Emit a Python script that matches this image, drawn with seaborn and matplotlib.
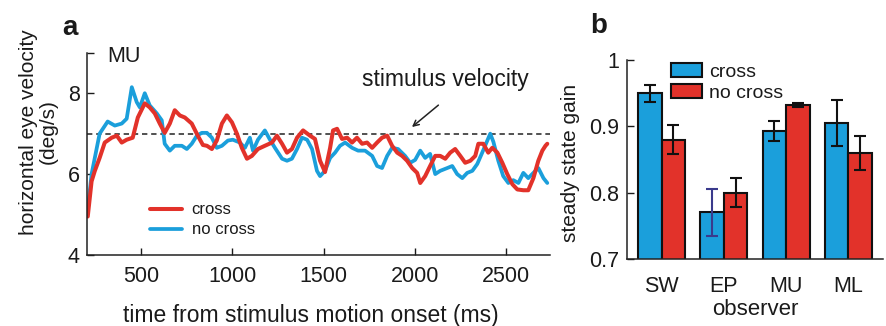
import matplotlib
matplotlib.use('Agg')
import matplotlib.pyplot as plt
import seaborn as sns
import pandas as pd

# Panel a: horizontal eye velocity traces (observer MU)
time_cross = [210, 231, 248, 275, 303, 341, 369, 396, 423, 456, 484, 522, 549, 577, 604,
              631, 659, 686, 714, 741, 779, 812, 840, 862, 889, 916, 944, 971, 999, 1026,
              1053, 1081, 1108, 1141, 1179, 1218, 1245, 1273, 1300, 1327, 1355, 1388, 1426,
              1453, 1481, 1508, 1536, 1552, 1574, 1601, 1629, 1656, 1683, 1711, 1738, 1766,
              1793, 1820, 1848, 1875, 1903, 1930, 1957, 1985, 2012, 2029, 2056, 2083, 2111,
              2138, 2166, 2193, 2220, 2248, 2275, 2303, 2330, 2347, 2374, 2401, 2423, 2451,
              2478, 2505, 2533, 2560, 2593, 2620, 2648, 2675, 2697, 2714, 2724]
vel_cross = [4.95, 5.82, 6.07, 6.4, 6.78, 6.9, 6.95, 6.78, 6.85, 6.9, 7.4, 7.75, 7.65, 7.5, 7.25,
             7.02, 7.25, 7.58, 7.45, 7.4, 7.25, 6.95, 6.72, 6.7, 6.62, 6.83, 7.25, 7.45, 7.28, 7.0,
             6.65, 6.38, 6.45, 6.62, 6.7, 6.78, 6.95, 6.75, 6.53, 6.62, 6.9, 7.08, 6.95,
             6.87, 6.33, 6.05, 6.65, 7.08, 7.12, 6.87, 6.9, 6.78, 6.9, 6.75, 6.78, 6.65,
             6.78, 6.9, 6.95, 6.7, 6.53, 6.45, 6.33, 6.15, 6.03, 5.78, 5.95, 6.2, 6.45,
             6.45, 6.38, 6.53, 6.62, 6.45, 6.28, 6.33, 6.45, 6.75, 6.75, 6.53, 6.65, 6.53,
             6.28, 6.0, 5.75, 5.62, 5.6, 5.6, 5.9, 6.33, 6.58, 6.7, 6.75]

time_nocross = [210, 231, 275, 319, 358, 396, 423, 451, 478, 495, 522, 549, 588, 615, 631,
                659, 686, 725, 752, 779, 807, 834, 862, 889, 916, 944, 977, 1004, 1042, 1070,
                1097, 1114, 1141, 1179, 1207, 1234, 1273, 1300, 1327, 1355, 1382, 1410, 1437,
                1464, 1481, 1508, 1536, 1563, 1590, 1618, 1656, 1689, 1727, 1766, 1793, 1820,
                1848, 1875, 1908, 1946, 1974, 2001, 2029, 2056, 2083, 2111, 2138, 2177, 2204,
                2231, 2259, 2286, 2314, 2341, 2368, 2396, 2412, 2429, 2456, 2483, 2511, 2538,
                2566, 2593, 2620, 2648, 2675, 2703, 2724]
vel_nocross = [5.1, 6.0, 7.0, 7.3, 7.2, 7.25, 7.37, 8.15, 7.78, 7.65, 8.0, 7.7, 7.5, 7.33, 6.75,
               6.58, 6.7, 6.7, 6.62, 6.75, 6.95, 7.02, 7.02, 6.9, 6.65, 6.7, 6.83, 6.85, 6.78, 6.65,
               6.9, 6.58, 6.85, 7.08, 6.85, 6.65, 6.38, 6.33, 6.38, 6.62, 6.9, 6.85, 6.62,
               6.08, 5.95, 6.08, 6.4, 6.53, 6.7, 6.78, 6.65, 6.58, 6.58, 6.45, 6.2, 6.15,
               6.45, 6.65, 6.62, 6.45, 6.28, 6.35, 6.58, 6.4, 6.5, 6.0, 6.08, 6.15, 6.2,
               6.0, 5.9, 6.03, 6.08, 6.25, 6.53, 6.83, 7.0, 6.8, 6.33, 5.95, 5.78, 5.85,
               5.78, 6.03, 5.9, 6.03, 6.15, 5.9, 5.78]

stimulus_velocity = 7
time_ticks = [500, 1000, 1500, 2000, 2500]
vel_ticks = [4, 6, 8, 9]
vel_ticklabels = ['4', '6', '8', '']

# Panel b: steady state gain per observer
observers = ['SW', 'EP', 'MU', 'ML']
gain_cross = [0.950, 0.770, 0.893, 0.905]
gain_nocross = [0.880, 0.800, 0.932, 0.860]
err_cross = [0.013, 0.036, 0.0145, 0.035]
err_nocross = [0.0225, 0.022, 0.003, 0.026]
gain_ticks = [0.7, 0.8, 0.9, 1.0]
gain_ticklabels = ['0.7', '0.8', '0.9', '1']

BLUE = '#1b9fdb'
RED = '#e2322a'
TXT = '#1a1a1a'

sns.set_style('ticks')
plt.rcParams['font.family'] = ['Liberation Sans', 'DejaVu Sans']
plt.rcParams['text.color'] = TXT
plt.rcParams['axes.labelcolor'] = TXT
plt.rcParams['xtick.color'] = TXT
plt.rcParams['ytick.color'] = TXT

fig = plt.figure(figsize=(8.86, 3.26), dpi=100)
ax_a = fig.add_axes([0.098, 0.218, 0.523, 0.620])
ax_b = fig.add_axes([0.708, 0.206, 0.289, 0.610])

# ---- panel a
ax_a.axhline(stimulus_velocity, color='#222222', lw=1.1, ls=(0, (3.5, 2.5)), zorder=1)
sns.lineplot(x=time_nocross, y=vel_nocross, ax=ax_a, color=BLUE, lw=2.7,
             label='no cross', estimator=None, sort=False)
sns.lineplot(x=time_cross, y=vel_cross, ax=ax_a, color=RED, lw=2.9,
             label='cross', estimator=None, sort=False)
for ln in ax_a.get_lines():
    ln.set_solid_joinstyle('round')
    ln.set_solid_capstyle('round')

ax_a.set_xlim(205, 2740)
ax_a.set_ylim(4, 9)
ax_a.set_xticks(time_ticks)
ax_a.set_yticks(vel_ticks)
ax_a.set_yticklabels(vel_ticklabels)
ax_a.tick_params(direction='in', length=5, width=1, labelsize=15.5)
ax_a.tick_params(axis='x', pad=8)
ax_a.tick_params(axis='y', pad=5)
sns.despine(ax=ax_a)
for s in ['left', 'bottom']:
    ax_a.spines[s].set_linewidth(1.1)
    ax_a.spines[s].set_color('#222222')

ax_a.set_xlabel('time from stimulus motion onset (ms)', fontsize=16.5)
ax_a.xaxis.set_label_coords(0.483, -0.245)
ax_a.set_ylabel('horizontal eye velocity\n(deg/s)', fontsize=15, linespacing=1.1)
ax_a.yaxis.set_label_coords(-0.062, 0.61)

ax_a.text(0.045, 0.98, 'MU', transform=ax_a.transAxes, fontsize=15.5, va='center', ha='left')
ax_a.annotate('stimulus velocity', xy=(1972, 7.12), xytext=(2166, 8.33),
              fontsize=16.5, ha='center', va='center')
ax_a.annotate('', xy=(1972, 7.12), xytext=(2140, 7.75),
              arrowprops=dict(arrowstyle='->', color='#222222', lw=1.1))

h, l = ax_a.get_legend_handles_labels()
ax_a.legend([h[1], h[0]], [l[1], l[0]], loc='upper left', bbox_to_anchor=(0.136, 0.26),
            frameon=False, fontsize=12, handlelength=1.9, handletextpad=0.6,
            labelspacing=0.3, borderpad=0, borderaxespad=0)

# ---- panel b
gain_df = pd.DataFrame({
    'observer': observers * 2,
    'condition': ['cross'] * len(observers) + ['no cross'] * len(observers),
    'gain': gain_cross + gain_nocross,
})
sns.barplot(data=gain_df, x='observer', y='gain', hue='condition', order=observers,
            hue_order=['cross', 'no cross'], palette={'cross': BLUE, 'no cross': RED},
            saturation=1, width=0.75, edgecolor='#111111', linewidth=1.5,
            errorbar=None, ax=ax_b)

bars = sorted(ax_b.patches, key=lambda p: p.get_x())
bars = [p for p in bars if p.get_height() > 0.5]
errs = []
err_colors = []
for i in range(len(observers)):
    errs += [err_cross[i], err_nocross[i]]
    err_colors += ['#3a3a8c' if observers[i] == 'EP' else '#111111', '#111111']
for p, e, c in zip(bars, errs, err_colors):
    ax_b.errorbar(p.get_x() + p.get_width() / 2, p.get_height(), yerr=e, color=c,
                  capsize=4.5, elinewidth=1.5, capthick=1.5, zorder=5)

ax_b.set_ylim(0.7, 1.0)
ax_b.set_xlim(-0.55, 3.56)
ax_b.set_yticks(gain_ticks)
ax_b.set_yticklabels(gain_ticklabels)
ax_b.tick_params(direction='in', length=5, width=1, labelsize=15.5)
ax_b.tick_params(axis='x', length=0, pad=12)
ax_b.tick_params(axis='y', pad=6)
sns.despine(ax=ax_b)
for s in ['left', 'bottom']:
    ax_b.spines[s].set_linewidth(1.1)
    ax_b.spines[s].set_color('#222222')
ax_b.set_xlabel('observer', fontsize=16, labelpad=2)
ax_b.set_ylabel('steady state gain', fontsize=15)
ax_b.yaxis.set_label_coords(-0.184, 0.48)

sns.move_legend(ax_b, 'upper left', bbox_to_anchor=(0.169, 0.985), frameon=False, title=None,
                fontsize=14, handlelength=1.6, handleheight=0.75, handletextpad=0.4,
                labelspacing=0.15, borderpad=0, borderaxespad=0)

fig.text(0.070, 0.915, 'a', fontsize=20, fontweight='bold', ha='left', va='center')
fig.text(0.666, 0.92, 'b', fontsize=20, fontweight='bold', ha='left', va='center')

fig.savefig('out.png', dpi=100)
